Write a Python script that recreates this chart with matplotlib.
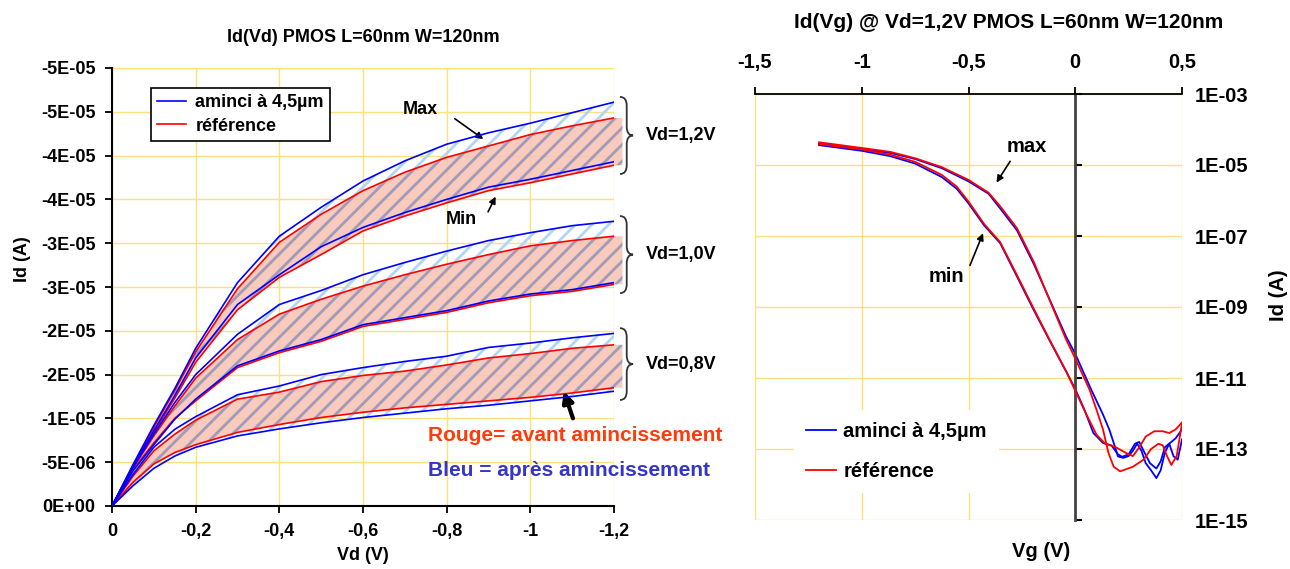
import numpy as np
import matplotlib
matplotlib.use('Agg')
import matplotlib.pyplot as plt
from matplotlib.path import Path
from matplotlib.patches import PathPatch
from matplotlib.ticker import NullLocator

plt.rcParams['font.family'] = ['Liberation Sans', 'DejaVu Sans']
plt.rcParams['font.weight'] = 'bold'
plt.rcParams['hatch.linewidth'] = 2.0

# ---------------- Id(Vd) : |Id| in uA (plotted as negative A)
vd = [0, -0.05, -0.1, -0.15, -0.2, -0.3, -0.4, -0.5, -0.6, -0.7, -0.8, -0.9, -1.0, -1.1, -1.2]

# Vd = 1,2V
bmax_12 = [0, 4.7, 9.2, 13.4, 18.0, 25.5, 30.8, 34.1, 37.1, 39.4, 41.3, 42.6, 43.7, 44.9, 46.1]
rmax_12 = [0, 4.6, 9.0, 13.2, 17.6, 24.8, 30.1, 33.3, 36.0, 38.1, 39.8, 41.1, 42.4, 43.4, 44.3]
bmin_12 = [0, 4.5, 8.6, 12.6, 16.9, 23.0, 26.4, 29.6, 31.8, 33.5, 35.0, 36.4, 37.3, 38.3, 39.3]
rmin_12 = [0, 4.4, 8.4, 12.3, 16.4, 22.4, 26.1, 28.7, 31.4, 33.1, 34.6, 36.0, 36.9, 37.9, 38.9]
# Vd = 1,0V
bmax_10 = [0, 4.4, 8.2, 11.8, 15.0, 19.6, 23.0, 24.6, 26.4, 27.8, 29.1, 30.3, 31.2, 32.0, 32.5]
rmax_10 = [0, 4.3, 8.0, 11.4, 14.6, 19.0, 21.9, 23.6, 25.1, 26.4, 27.6, 28.7, 29.7, 30.3, 30.8]
bmin_10 = [0, 4.0, 7.0, 9.9, 12.2, 16.0, 17.7, 19.0, 20.7, 21.5, 22.3, 23.4, 24.2, 24.7, 25.5]
rmin_10 = [0, 4.1, 7.2, 10.0, 12.0, 15.8, 17.5, 18.8, 20.5, 21.3, 22.1, 23.2, 24.0, 24.5, 25.3]
# Vd = 0,8V
bmax_08 = [0, 3.6, 6.7, 8.75, 10.2, 12.7, 13.7, 15.0, 15.8, 16.5, 17.1, 18.1, 18.6, 19.2, 19.7]
rmax_08 = [0, 3.4, 6.3, 8.2, 9.8, 12.2, 13.0, 14.2, 14.9, 15.4, 16.1, 16.9, 17.4, 18.0, 18.4]
bmin_08 = [0, 2.3, 4.3, 5.7, 6.7, 8.0, 8.8, 9.5, 10.1, 10.6, 11.1, 11.5, 12.0, 12.5, 13.1]
rmin_08 = [0, 2.7, 4.8, 6.1, 7.0, 8.4, 9.3, 10.1, 10.7, 11.2, 11.6, 12.0, 12.4, 12.9, 13.5]

groups = [('Vd=1,2V', bmax_12, rmax_12, bmin_12, rmin_12),
          ('Vd=1,0V', bmax_10, rmax_10, bmin_10, rmin_10),
          ('Vd=0,8V', bmax_08, rmax_08, bmin_08, rmin_08)]

vd_ticks = [0, -0.2, -0.4, -0.6, -0.8, -1.0, -1.2]
vd_ticklabels = ['0', '-0,2', '-0,4', '-0,6', '-0,8', '-1', '-1,2']
id_ticks = [0, -5e-6, -1e-5, -1.5e-5, -2e-5, -2.5e-5, -3e-5, -3.5e-5, -4e-5, -4.5e-5, -5e-5]
id_ticklabels = ['0E+00', '-5E-06', '-1E-05', '-2E-05', '-2E-05', '-3E-05',
                 '-3E-05', '-4E-05', '-4E-05', '-5E-05', '-5E-05']

# ---------------- Id(Vg) @ Vd=1,2V : log10(Id)
vg_bmax = [-1.2, -1.0, -0.867, -0.75, -0.625, -0.5, -0.406, -0.352, -0.273, -0.195, -0.117, -0.044, 0.0,
           0.075, 0.13, 0.16, 0.185, 0.2, 0.225, 0.25, 0.27, 0.29, 0.31, 0.33, 0.355, 0.38, 0.40, 0.42, 0.44, 0.47, 0.5]
lg_bmax = [-4.40, -4.55, -4.66, -4.83, -5.09, -5.46, -5.81, -6.22, -6.84, -7.78, -8.83, -9.82, -10.32,
           -11.33, -12.03, -12.46, -12.92, -13.21, -13.25, -13.2, -13.05, -12.85, -13.05, -13.4, -13.6, -13.82, -13.6,
           -13.1, -12.85, -12.7, -12.45]
vg_rmax = [-1.2, -1.0, -0.867, -0.75, -0.625, -0.5, -0.406, -0.352, -0.273, -0.195, -0.117, -0.044, 0.0,
           0.067, 0.10, 0.13, 0.155, 0.18, 0.21, 0.27, 0.32, 0.355, 0.39, 0.41, 0.43, 0.45, 0.475, 0.5]
lg_rmax = [-4.36, -4.52, -4.63, -4.81, -5.06, -5.42, -5.78, -6.16, -6.78, -7.72, -8.85, -9.9, -10.45,
           -11.33, -11.9, -12.45, -13.1, -13.5, -13.63, -13.5, -13.3, -13.0, -12.85, -12.9, -13.2, -13.45, -13.2,
           -12.27]
vg_bmin = [-1.2, -1.0, -0.867, -0.75, -0.625, -0.555, -0.5, -0.427, -0.352, -0.273, -0.195, -0.117, -0.039,
           0.0, 0.04, 0.085, 0.13, 0.17, 0.2, 0.22, 0.25, 0.28, 0.3, 0.32, 0.35, 0.38, 0.4, 0.42, 0.44, 0.46,
           0.48, 0.5]
lg_bmin = [-4.44, -4.6, -4.75, -4.96, -5.34, -5.67, -6.08, -6.7, -7.2, -8.14, -9.08, -9.98, -10.86,
           -11.31, -11.85, -12.55, -12.83, -12.9, -13.15, -13.22, -13.15, -12.85, -12.8, -13.05, -13.4, -13.55,
           -13.35, -12.95, -12.85, -13.2, -13.3, -12.73]
vg_rmin = [-1.2, -1.0, -0.867, -0.75, -0.625, -0.555, -0.5, -0.427, -0.352, -0.273, -0.195, -0.117, -0.039,
           0.0, 0.05, 0.1, 0.14, 0.19, 0.24, 0.27, 0.30, 0.33, 0.37, 0.41, 0.44, 0.47, 0.5]
lg_rmin = [-4.41, -4.56, -4.71, -4.91, -5.28, -5.61, -6.03, -6.66, -7.17, -8.1, -9.04, -9.96, -10.85,
           -11.36, -12.0, -12.6, -12.85, -12.95, -13.12, -13.2, -12.95, -12.65, -12.5, -12.5, -12.55, -12.45,
           -12.25]

vg_ticks = [-1.5, -1.0, -0.5, 0, 0.5]
vg_ticklabels = ['-1,5', '-1', '-0,5', '0', '0,5']
idg_ticks = [1e-15, 1e-13, 1e-11, 1e-9, 1e-7, 1e-5, 1e-3]
idg_ticklabels = ['1E-15', '1E-13', '1E-11', '1E-09', '1E-07', '1E-05', '1E-03']

BLUE = '#0000FF'
RED = '#FF0000'
GRID = '#FFE07A'
FS = 13      # left chart
FS2 = 14.5   # right chart


def ua(v):
    return -np.asarray(v, dtype=float) * 1e-6


def brace(ax, top, bot, x0=-1.2144, xm=-1.2304, xt=-1.2456, h=1.0):
    # curly brace drawn in data coords (values in uA)
    mid = (top + bot) / 2
    verts = [(x0, ua(top)), (xm, ua(top)), (xm, ua(top - h)), (xm, ua(mid + h)),
             (xm, ua(mid)), (xt, ua(mid)), (xm, ua(mid)), (xm, ua(mid - h)),
             (xm, ua(bot + h)), (xm, ua(bot)), (x0, ua(bot))]
    codes = [Path.MOVETO, Path.CURVE3, Path.CURVE3, Path.LINETO,
             Path.CURVE3, Path.CURVE3, Path.CURVE3, Path.CURVE3,
             Path.LINETO, Path.CURVE3, Path.CURVE3]
    ax.add_patch(PathPatch(Path(verts, codes), fc='none', ec='#333333', lw=1.3, clip_on=False))


fig = plt.figure(figsize=(12.9, 5.69), dpi=100)
ax1 = fig.add_axes([112 / 1290, 1 - 506 / 569, 502 / 1290, 438 / 569])
ax2 = fig.add_axes([755 / 1290, 1 - 520 / 569, 427 / 1290, 426 / 569])

# ================= left : Id(Vd)
ax1.set_xlim(0, -1.2)
ax1.set_ylim(0, -5e-5)
ax1.grid(True, color=GRID, lw=1.0)
ax1.set_axisbelow(True)
for s in ['top', 'right']:
    ax1.spines[s].set_visible(False)
for s in ['left', 'bottom']:
    ax1.spines[s].set_linewidth(1.5)
ax1.set_xticks(vd_ticks, vd_ticklabels)
ax1.set_yticks(id_ticks, id_ticklabels)
ax1.tick_params(labelsize=FS, length=5, width=1.3, pad=7)

vd_ext = vd + [-1.22]
for name, bmax, rmax, bmin, rmin in groups:
    ax1.fill_between(vd, ua(bmax), ua(bmin), facecolor='none', edgecolor='#B0D6F6',
                     hatch='//', lw=0, zorder=1)
    ax1.fill_between(vd_ext, ua(rmax + [rmax[-1]]), ua(rmin + [rmin[-1]]),
                     facecolor=(0.97, 0.76, 0.70, 0.85), edgecolor='#A29BB8',
                     hatch='//', lw=0, zorder=2, clip_on=False)
    lr, = ax1.plot(vd, ua(rmax), color=RED, lw=1.2, zorder=3)
    ax1.plot(vd, ua(rmin), color=RED, lw=1.2, zorder=3)
    lb, = ax1.plot(vd, ua(bmax), color=BLUE, lw=1.2, zorder=4)
    ax1.plot(vd, ua(bmin), color=BLUE, lw=1.2, zorder=4)
    top = bmax[-1] + 0.6
    bot = min(bmin[-1], rmin[-1]) - 1.0
    brace(ax1, top, bot)
    ax1.text(-1.277, ua((top + bot) / 2), name, fontsize=FS, va='center', ha='left')

leg1 = ax1.legend([lb, lr], ['aminci à 4,5µm', 'référence'], loc='upper left',
                  bbox_to_anchor=(0.078, 0.954), borderaxespad=0, fancybox=False,
                  edgecolor='black', framealpha=1, fontsize=FS, handlelength=1.6,
                  handletextpad=0.5, labelspacing=0.35, borderpad=0.35)
leg1.get_frame().set_linewidth(1.2)

ax1.set_title('Id(Vd) PMOS L=60nm W=120nm', fontsize=13, fontweight='bold', y=1.04)
ax1.set_xlabel('Vd (V)', fontsize=FS, fontweight='bold')
ax1.set_ylabel('Id (A)', fontsize=FS, fontweight='bold')
ax1.xaxis.set_label_coords(0.5, -0.094)
ax1.yaxis.set_label_coords(-0.162, 0.564)

ax1.text(-0.738, ua(45.3), 'Max', fontsize=FS, ha='center', va='center')
ax1.annotate('', xy=(-0.893, ua(41.7)), xytext=(-0.814, ua(44.4)),
             arrowprops=dict(arrowstyle='-|>', color='black', lw=1.2, mutation_scale=10))
ax1.text(-0.836, ua(32.7), 'Min', fontsize=FS, ha='center', va='center')
ax1.annotate('', xy=(-0.920, ua(35.6)), xytext=(-0.896, ua(33.3)),
             arrowprops=dict(arrowstyle='-|>', color='black', lw=1.2, mutation_scale=10))
ax1.annotate('', xy=(-1.078, ua(13.4)), xytext=(-1.104, ua(9.7)),
             arrowprops=dict(arrowstyle='-|>', color='black', lw=3, mutation_scale=16))
ax1.text(-0.756, ua(8.1), 'Rouge= avant amincissement', fontsize=15, color='#FF3B0A',
         ha='left', va='center')
ax1.text(-0.756, ua(4.0), 'Bleu = après amincissement', fontsize=15, color='#3535C8',
         ha='left', va='center')

# ================= right : Id(Vg)
ax2.set_yscale('log')
ax2.set_xlim(-1.5, 0.5)
ax2.set_ylim(1e-15, 1e-3)
ax2.grid(True, color=GRID, lw=1.0)
ax2.set_axisbelow(True)
ax2.spines['right'].set_visible(False)
ax2.spines['bottom'].set_visible(False)
ax2.spines['left'].set_position(('data', 0))
ax2.spines['left'].set_color('#444444')
ax2.spines['left'].set_linewidth(2)
ax2.spines['top'].set_linewidth(1.3)
ax2.xaxis.tick_top()
ax2.set_xticks(vg_ticks, vg_ticklabels)
ax2.set_yticks(idg_ticks, idg_ticklabels)
ax2.yaxis.set_minor_locator(NullLocator())
ax2.tick_params(axis='x', labelsize=FS2, length=5, width=1.3, pad=11)
ax2.tick_params(axis='y', which='both', direction='in', left=True, right=False,
                labelleft=False, labelright=True, labelsize=FS2, length=5, width=1.5, pad=9)

ax2.plot(vg_rmax, np.power(10.0, lg_rmax), color=RED, lw=1.3, zorder=3)
ax2.plot(vg_rmin, np.power(10.0, lg_rmin), color=RED, lw=1.3, zorder=3)
hb, = ax2.plot(vg_bmax, np.power(10.0, lg_bmax), color=BLUE, lw=1.3, zorder=2)
ax2.plot(vg_bmin, np.power(10.0, lg_bmin), color=BLUE, lw=1.3, zorder=2)
hr = ax2.lines[0]

ax2.legend([hb, hr], ['aminci à 4,5µm', 'référence'], loc='upper left',
           bbox_to_anchor=(0.091, 0.258), borderaxespad=0, fancybox=False,
           facecolor='white', edgecolor='none', framealpha=1, fontsize=FS2,
           handlelength=1.5, handletextpad=0.35, labelspacing=1.05, borderpad=0.6)

ax2.text(0.593, 1.169, 'Id(Vg) @ Vd=1,2V PMOS L=60nm W=120nm', transform=ax2.transAxes,
         fontsize=15, ha='center', va='center')
ax2.text(0.67, -0.075, 'Vg (V)', transform=ax2.transAxes, fontsize=FS2, ha='center', va='center')
ax2.set_ylabel('Id (A)', fontsize=FS2, fontweight='bold', rotation=90)
ax2.yaxis.set_label_position('right')
ax2.yaxis.set_label_coords(1.203, 0.528)

ax2.text(-0.226, 10 ** -4.465, 'max', fontsize=FS2, ha='center', va='center')
ax2.annotate('', xy=(-0.376, 10 ** -5.56), xytext=(-0.298, 10 ** -4.83),
             arrowprops=dict(arrowstyle='-|>', color='black', lw=1.2, mutation_scale=10))
ax2.text(-0.601, 10 ** -8.15, 'min', fontsize=FS2, ha='center', va='center')
ax2.annotate('', xy=(-0.427, 10 ** -6.85), xytext=(-0.498, 10 ** -7.9),
             arrowprops=dict(arrowstyle='-|>', color='black', lw=1.2, mutation_scale=10))

fig.savefig('out.png', dpi=100)
